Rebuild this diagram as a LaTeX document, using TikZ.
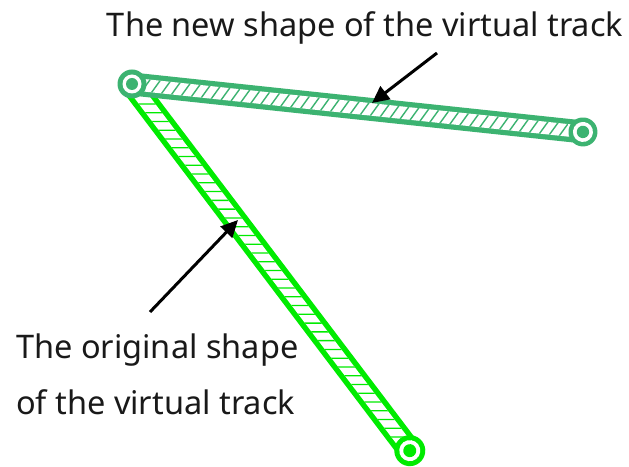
\documentclass[tikz,border=0pt]{standalone}
\usepackage{fontspec}
\setmainfont{Noto Sans}
\usetikzlibrary{arrows.meta}
\definecolor{newg}{RGB}{60,179,113}
\definecolor{oldg}{RGB}{0,235,0}
\tikzset{
  lbl/.style={font=\fontsize{32.5}{38}\selectfont, inner sep=0pt, text=black!90},
  pointer/.style={line width=3pt, -{Triangle[length=17pt,width=16pt]}, black},
}
\begin{document}
\begin{tikzpicture}[x=1pt,y=1pt]
\useasboundingbox (0,0) rectangle (629,466);
\fill[white] (0,0) rectangle (629,466);
% key points (y up)
\coordinate (P) at (132,382);
\coordinate (Q) at (583,333);
\coordinate (R) at (411,15);
% ---------- original track ----------
\begin{scope}[shift={(P)}, rotate=-52.85]
  \draw[oldg, line width=24pt, line cap=round] (0,0) -- (460,0);
  \draw[white, line width=13pt, line cap=round] (0,0) -- (460,0);
  \begin{scope}
    \clip (12,-6.5) rectangle (446,6.5);
    \foreach \t in {14,25,...,450} {
      \draw[oldg, line width=1.3pt] (\t,0) ++(52.85:-10) -- ++(52.85:20);
    }
  \end{scope}
  \fill[oldg] (460,0) circle (15.5);
  \fill[white] (460,0) circle (10.5);
  \fill[oldg] (460,0) circle (6.5);
\end{scope}
% ---------- new track ----------
\begin{scope}[shift={(P)}, rotate=-6.07]
  \draw[newg, line width=23pt, line cap=round] (0,0) -- (453.5,0);
  \draw[white, line width=12.5pt, line cap=round] (0,0) -- (453.5,0);
  \begin{scope}
    \clip (14,-6.25) rectangle (438,6.25);
    \foreach \t in {14,24,...,445} {
      \draw[newg, line width=1.4pt] (\t-4,-7) -- (\t+4,7);
    }
  \end{scope}
  \fill[newg] (453.5,0) circle (14.5);
  \fill[white] (453.5,0) circle (10);
  \fill[newg] (453.5,0) circle (6.2);
\end{scope}
% pivot
\fill[newg] (P) circle (14.5);
\fill[white] (P) circle (9.5);
\fill[newg] (P) circle (6);
\node[circle, inner sep=0pt, minimum size=28pt] (pivot) at (P) {};
\node[circle, inner sep=0pt, minimum size=28pt] (endnew) at (Q) {};
\node[circle, inner sep=0pt, minimum size=30pt] (endold) at (R) {};
% hit points on tracks
\coordinate (hitnew) at (372,363);
\coordinate (hitold) at (238,246);
% labels
\node[lbl, anchor=center] (newlbl) at (365,438) {The new shape of the virtual track};
\node[lbl, anchor=west] (oldlbl1) at (16,116) {The original shape};
\node[lbl, anchor=west] (oldlbl2) at (16,64) {of the virtual track};
\coordinate (tailnew) at (437,413);
\coordinate (tailold) at (150,154);
\draw[pointer] (tailnew) -- (hitnew);
\draw[pointer] (tailold) -- (hitold);
\end{tikzpicture}
\end{document}
